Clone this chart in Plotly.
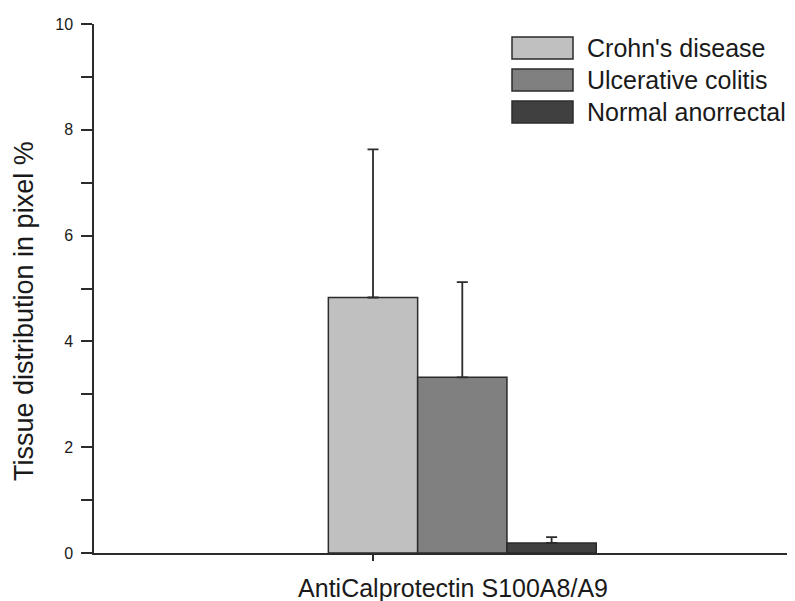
import plotly.graph_objects as go

# ---- data ----
category = ["AntiCalprotectin S100A8/A9"]
series_names = ["Crohn's disease", "Ulcerative colitis", "Normal anorrectal"]
means = [4.83, 3.32, 0.19]
errors_up = [2.80, 1.80, 0.11]
colors = ["#c0c0c0", "#808080", "#404040"]
y_ticks = [0, 2, 4, 6, 8, 10]

# ---- layout geometry (screen pixels; page body has an 8px margin) ----
OFF = 8
W, H = 795 - OFF, 601 - OFF
L, R, T, B = 94 - OFF, 0, 24 - OFF, 48
PW, PH = W - L - R, H - T - B
tick_px = 373.0          # screen x of category tick (centre of first bar)
bar_px = 89.3            # bar width in pixels
axis_px = 94.0           # screen x of y axis
right_px = 795.0         # screen x of right end of plot area

def sx(px):
    return (px - OFF - L) / PW

def sy(py):
    return (H - B - (py - OFF)) / PH

offsets = [-0.5, 0.5, 1.5]
edge = "#2b2b2b"
txt = "#1a1a1a"
font_family = "Liberation Sans, Arial, sans-serif"

fig = go.Figure()
for name, m, e, c, off in zip(series_names, means, errors_up, colors, offsets):
    fig.add_trace(go.Bar(
        x=category, y=[m], name=name,
        width=1.0, offset=off,
        marker=dict(color=c, line=dict(color=edge, width=1.5)),
        error_y=dict(type="data", symmetric=False, array=[e], arrayminus=[0],
                     color=edge, thickness=1.8, width=5.5),
        showlegend=False,
    ))

x_lo = (axis_px - tick_px) / bar_px
x_hi = (right_px - tick_px) / bar_px

fig.update_layout(
    width=W, height=H,
    margin=dict(l=L, r=R, t=T, b=B, autoexpand=False),
    plot_bgcolor="white", paper_bgcolor="white",
    barmode="overlay",
    font=dict(family=font_family, color=txt),
    xaxis=dict(
        type="category", range=[x_lo, x_hi],
        showline=True, linecolor=edge, linewidth=1.5,
        ticks="outside", ticklen=6, tickwidth=1.5, tickcolor=edge,
        showgrid=False, zeroline=False,
        tickfont=dict(size=25, color=txt, family=font_family),
        ticklabelshift=80, ticklabelstandoff=6,
    ),
    yaxis=dict(
        range=[0, 10], tickvals=y_ticks,
        showline=True, linecolor=edge, linewidth=1.5,
        ticks="outside", ticklen=11, tickwidth=1.5, tickcolor=edge,
        minor=dict(dtick=1, ticks="outside", ticklen=11, tickwidth=1.5, tickcolor=edge),
        showgrid=False, zeroline=False,
        tickfont=dict(size=16, color=txt, family=font_family),
        ticklabelstandoff=5,
    ),
)

annotations = [dict(
    text="Tissue distribution in pixel %", textangle=-90,
    xref="paper", yref="paper", x=sx(24), y=sy(311),
    xanchor="center", yanchor="middle", showarrow=False,
    font=dict(size=27, color=txt, family=font_family),
)]

shapes = []
row_tops = [37, 69, 101]
for name, c, top in zip(series_names, colors, row_tops):
    shapes.append(dict(
        type="rect", xref="paper", yref="paper",
        x0=sx(512), x1=sx(573),
        y0=sy(top + 22), y1=sy(top),
        fillcolor=c, line=dict(color=edge, width=1.5),
    ))
    annotations.append(dict(
        text=name, xref="paper", yref="paper",
        x=sx(585), y=sy(top + 11),
        xanchor="left", yanchor="middle", showarrow=False,
        font=dict(size=25, color=txt, family=font_family),
    ))

fig.update_layout(annotations=annotations, shapes=shapes)
fig.write_html("out.html")
